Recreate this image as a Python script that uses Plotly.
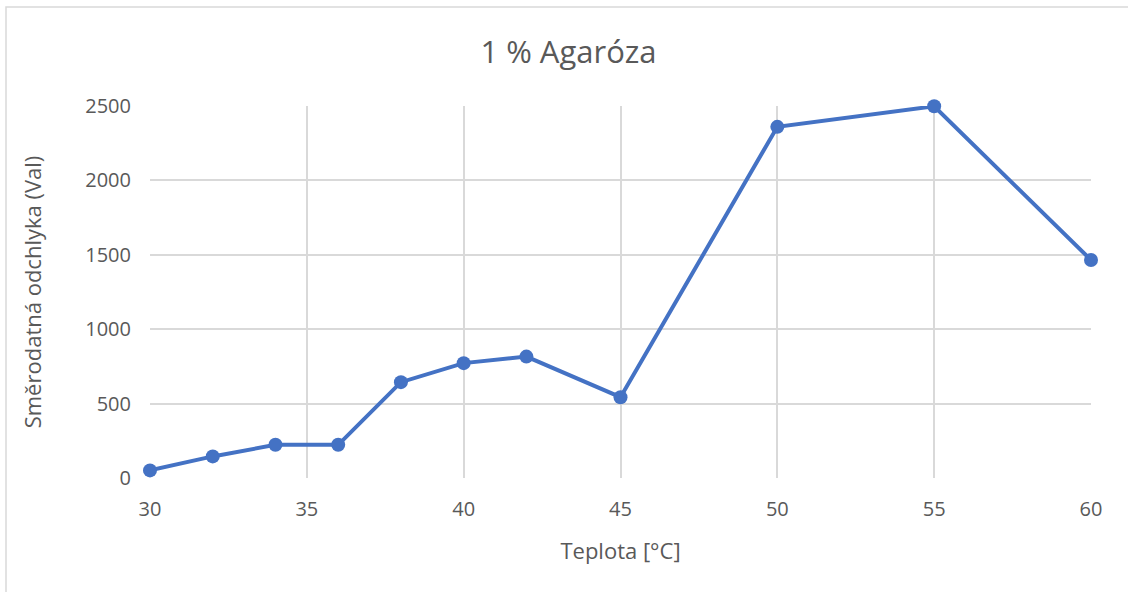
import plotly.graph_objects as go

# Temperature [°C] and standard deviation values for 1 % agarose
teplota = [30, 32, 34, 36, 38, 40, 42, 45, 50, 55, 60]
odchylka = [51, 145, 223, 223, 644, 772, 816, 543, 2360, 2498, 1465]

x_ticks = [30, 35, 40, 45, 50, 55, 60]
y_ticks = [0, 500, 1000, 1500, 2000, 2500]

FONT = "Open Sans"
GRAY = "#595959"
GRID = "#d9d9d9"
BLUE = "#4472C4"

fig = go.Figure()
fig.add_trace(go.Scatter(
    x=teplota, y=odchylka, mode="lines+markers",
    line=dict(color=BLUE, width=4),
    marker=dict(color=BLUE, size=14),
    showlegend=False,
    cliponaxis=False,
))

fig.update_layout(
    width=1128, height=592,
    margin=dict(l=150, r=37, t=106, b=114),
    paper_bgcolor="white", plot_bgcolor="white",
    title=dict(text="1 % Agaróza", x=0.504, xanchor="center", y=0.912, yanchor="middle",
               font=dict(family=FONT, size=31, color=GRAY)),
    font=dict(family=FONT, color=GRAY),
    xaxis=dict(
        range=[30, 60], tickvals=x_ticks, ticktext=[str(v) for v in x_ticks],
        showgrid=True, gridcolor=GRID, gridwidth=1.5, zeroline=False,
        showline=False, ticks="", ticklen=0, ticklabelstandoff=17,
        tickfont=dict(family=FONT, size=20, color=GRAY),
        title=dict(text="Teplota [°C]", font=dict(family=FONT, size=22, color=GRAY), standoff=22),
    ),
    yaxis=dict(
        range=[0, 2500], tickvals=y_ticks, ticktext=[str(v) for v in y_ticks],
        showgrid=True, gridcolor=GRID, gridwidth=1.5, zeroline=False,
        showline=False, ticks="", ticklen=0, ticklabelstandoff=18,
        tickfont=dict(family=FONT, size=20, color=GRAY),
        title=dict(text="Směrodatná odchlyka (Val)", font=dict(family=FONT, size=22, color=GRAY), standoff=37),
    ),
    shapes=[dict(
        type="rect", xref="paper", yref="paper",
        x0=(6 - 150) / 941, x1=(1135 - 150) / 941,
        y0=(478 - 600) / 372, y1=(478 - 7) / 372,
        line=dict(color=GRID, width=1.5), fillcolor="rgba(0,0,0,0)", layer="below",
    )],
)

fig.write_html("out.html")
